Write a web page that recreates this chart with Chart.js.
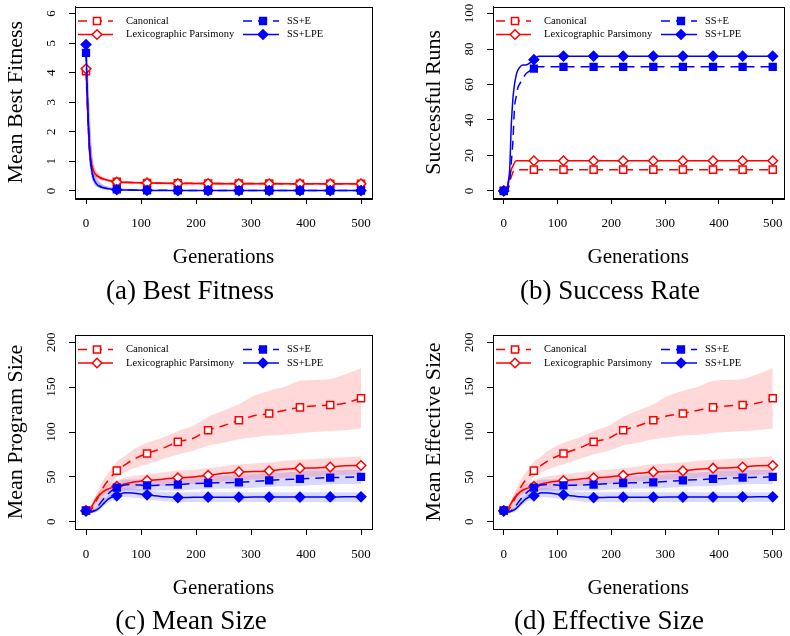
<!DOCTYPE html>
<html><head><meta charset="utf-8">
<script src="https://cdn.jsdelivr.net/npm/chart.js@4"></script>
<style>
html,body{margin:0;padding:0;background:#fff;}
#wrap{position:relative;width:790px;height:636px;overflow:hidden;background:#fff;}
canvas{position:absolute;left:0;top:0;}
</style></head>
<body><div id="wrap">
<canvas id="ca" width="790" height="636"></canvas>
<canvas id="cb" width="790" height="636"></canvas>
<canvas id="cc" width="790" height="636"></canvas>
<canvas id="cd" width="790" height="636"></canvas>
</div>
<script>
// ---------- shared ----------
const xTicks = [0, 100, 200, 300, 400, 500];
const markerGens = [0, 56, 111, 167, 222, 278, 333, 389, 444, 500];
const seriesNames = ['Canonical', 'Lexicographic Parsimony', 'SS+E', 'SS+LPE'];

// ---------- (a) Best Fitness ----------
const fitTicks = [0, 1, 2, 3, 4, 5, 6];
const genA = [0, 3, 6, 9, 12, 15, 20, 25, 30, 40, 56, 80, 111, 140, 167, 222, 278, 333, 389, 444, 500];
const fitCanon   = [4.05, 2.6, 1.5, 0.98, 0.74, 0.62, 0.51, 0.45, 0.41, 0.36, 0.31, 0.29, 0.27, 0.26, 0.26, 0.25, 0.25, 0.25, 0.24, 0.24, 0.24];
const fitCanonHi = [4.45, 3.5, 2.3, 1.5, 1.05, 0.82, 0.62, 0.53, 0.47, 0.41, 0.35, 0.33, 0.31, 0.3, 0.3, 0.29, 0.29, 0.29, 0.28, 0.28, 0.28];
const fitCanonLo = [3.65, 1.9, 1.0, 0.7, 0.56, 0.49, 0.42, 0.38, 0.35, 0.31, 0.27, 0.25, 0.23, 0.22, 0.22, 0.21, 0.21, 0.21, 0.2, 0.2, 0.2];
const fitLex     = [4.13, 2.7, 1.55, 1.0, 0.76, 0.63, 0.52, 0.46, 0.41, 0.36, 0.30, 0.28, 0.27, 0.26, 0.25, 0.25, 0.24, 0.24, 0.24, 0.24, 0.24];
const fitLexHi   = [4.5, 3.6, 2.4, 1.55, 1.1, 0.85, 0.64, 0.55, 0.48, 0.42, 0.35, 0.33, 0.31, 0.3, 0.29, 0.29, 0.28, 0.28, 0.28, 0.28, 0.28];
const fitLexLo   = [3.75, 2.0, 1.05, 0.72, 0.57, 0.5, 0.43, 0.38, 0.35, 0.31, 0.26, 0.24, 0.23, 0.22, 0.21, 0.21, 0.2, 0.2, 0.2, 0.2, 0.2];
const fitSSE     = [4.67, 2.9, 1.55, 0.88, 0.54, 0.36, 0.23, 0.16, 0.12, 0.08, 0.05, 0.03, 0.02, 0.02, 0.02, 0.01, 0.01, 0.01, 0.01, 0.01, 0.01];
const fitSSEHi   = [5.1, 4.2, 2.9, 1.8, 1.1, 0.7, 0.42, 0.3, 0.22, 0.15, 0.1, 0.07, 0.05, 0.04, 0.04, 0.03, 0.03, 0.03, 0.03, 0.03, 0.03];
const fitSSELo   = [4.3, 2.1, 1.0, 0.55, 0.34, 0.22, 0.13, 0.09, 0.06, 0.04, 0.02, 0.01, 0, 0, 0, 0, 0, 0, 0, 0, 0];
const fitSSLPE   = [4.95, 3.0, 1.6, 0.9, 0.55, 0.36, 0.22, 0.15, 0.11, 0.07, 0.04, 0.03, 0.02, 0.01, 0.01, 0.01, 0.01, 0.01, 0.01, 0.01, 0.01];
const fitSSLPEHi = [5.3, 4.5, 3.2, 2.0, 1.2, 0.75, 0.43, 0.3, 0.22, 0.14, 0.09, 0.06, 0.04, 0.03, 0.03, 0.03, 0.03, 0.03, 0.03, 0.03, 0.03];
const fitSSLPELo = [4.6, 2.2, 1.05, 0.56, 0.34, 0.22, 0.13, 0.08, 0.06, 0.03, 0.01, 0.01, 0, 0, 0, 0, 0, 0, 0, 0, 0];

// ---------- (b) Success Rate ----------
const sucTicks = [0, 20, 40, 60, 80, 100];
const genB = [0, 5, 8, 11, 14, 17, 20, 23, 26, 29, 35, 41, 50, 56, 65, 80, 111, 167, 222, 278, 333, 389, 444, 500];
const sucCanon = [0, 0, 1, 5, 8, 10.5, 11.5, 12, 12, 12, 12, 12, 12, 12, 12, 12, 12, 12, 12, 12, 12, 12, 12, 12];
const sucLex   = [0, 0, 5, 9, 12, 14, 16, 17, 17, 17, 17, 17, 17, 17, 17, 17, 17, 17, 17, 17, 17, 17, 17, 17];
const sucSSE   = [0, 0, 1, 6, 16, 28, 47, 53, 58, 60, 63, 66, 68, 69, 70, 70, 70, 70, 70, 70, 70, 70, 70, 70];
const sucSSLPE = [0, 0, 3, 12, 37, 52, 60, 65, 68, 69.5, 71, 71, 72.5, 74, 76, 76, 76, 76, 76, 76, 76, 76, 76, 76];

// ---------- (c) Mean Size / (d) Effective Size ----------
const sizeTicks = [0, 50, 100, 150, 200];
const genC = [0, 5, 10, 15, 20, 25, 30, 40, 50, 56, 70, 85, 111, 140, 167, 195, 222, 250, 278, 305, 333, 360, 389, 415, 444, 470, 500];
const sizeCanon   = [12.5, 12, 14, 19, 25, 31, 37, 46, 53, 57, 63, 69, 76, 82, 89, 93, 102, 107, 113, 118, 120.6, 124, 127.4, 129, 130, 132, 137.5];
const sizeCanonHi = [14, 14, 18, 25, 32, 39, 45, 54, 62, 67, 73, 80, 88, 94, 101, 107, 117, 124, 131, 140, 146, 150, 157, 158, 159, 164, 171];
const sizeCanonLo = [11, 10.5, 11, 13, 17, 22, 28, 38, 46, 50, 55, 59, 64, 70, 75, 79, 85, 88, 92, 94, 96, 97, 99, 100, 101, 102, 104];
const sizeLex     = [12.5, 13, 17, 22, 27, 30, 33, 36.5, 38.5, 39.5, 42, 44, 46, 47.5, 49, 50, 51.8, 54, 55.6, 56, 56.7, 58.5, 59.7, 60, 61, 62.5, 62.7];
const sizeLexHi   = [14, 15, 20, 26, 31, 35, 38, 42, 45, 46, 49, 51, 53, 55, 57, 58, 60, 62, 64, 65, 66, 68, 69, 70, 71, 72, 73];
const sizeLexLo   = [11, 11, 14, 18, 23, 26, 29, 32, 33, 34, 36, 37, 39, 40, 41, 42, 43, 45, 46, 47, 47.5, 49, 50, 50.5, 51, 52, 53];
const sizeSSE     = [12.5, 11.5, 11.5, 13, 16, 20, 24, 31, 36, 38, 41, 41.5, 40.5, 41, 41.5, 42.5, 43.2, 43.5, 44, 45, 46.2, 47, 47.7, 48.5, 49.2, 49.5, 50];
const sizeSSEHi   = [14, 13, 13, 15, 19, 24, 29, 37, 42, 44, 47, 47, 47, 48, 49, 50, 51, 51.5, 52, 53, 54, 55, 56, 57, 57.5, 58, 58];
const sizeSSELo   = [11, 10, 10, 11, 13, 16, 19, 25, 30, 32, 35, 35, 34.5, 35, 35, 36, 36.5, 37, 37, 38, 39, 39.5, 40, 41, 41.5, 42, 42];
const sizeSSLPE   = [12, 11, 11, 12, 13.5, 16, 19, 25, 28.5, 29, 32.5, 32, 30, 28, 27, 27.3, 27.4, 27.4, 27.4, 27.5, 27.5, 27.6, 27.6, 27.7, 27.7, 27.8, 27.8];
const sizeSSLPEHi = [13, 12, 12.5, 14, 16, 19, 22, 29, 33, 34, 37, 37, 35, 33.5, 33, 33, 33, 33, 33, 33, 33, 33, 33, 33, 33, 33, 33];
const sizeSSLPELo = [11, 10, 9.5, 10, 11, 13, 16, 21, 24, 24.5, 27.5, 27, 25, 23, 22, 22, 22, 22, 22, 22, 22, 22, 22, 22, 22, 22, 22];

// ---------- styling ----------
const FONT = '"Liberation Serif", "Times New Roman", serif';
const STY = [
  {color: '#ff0000', dash: [9, 6], style: 'rect',    fill: '#ffffff', r: 5,   band: 'rgba(255,0,0,0.15)'},
  {color: '#ff0000', dash: [],     style: 'rectRot', fill: '#ffffff', r: 4.8, band: 'rgba(255,0,0,0.15)'},
  {color: '#0000ff', dash: [9, 6], style: 'rect',    fill: '#0000ff', r: 4.8, band: 'rgba(0,0,255,0.15)'},
  {color: '#0000ff', dash: [],     style: 'rectRot', fill: '#0000ff', r: 4.8, band: 'rgba(0,0,255,0.15)'}
];

const pts = (xs, ys) => xs.map((x, i) => ({x: x, y: ys[i]}));

const decor = {
  id: 'decor',
  afterDraw(chart) {
    const o = chart.options.plugins.decor;
    const ctx = chart.ctx, a = chart.chartArea, xs = chart.scales.x, ys = chart.scales.y;
    ctx.save();
    // box
    ctx.strokeStyle = '#000'; ctx.lineWidth = 1; ctx.setLineDash([]);
    ctx.strokeRect(Math.round(a.left) + 0.5, Math.round(a.top) + 0.5, Math.round(a.right - a.left), Math.round(a.bottom - a.top));
    ctx.fillStyle = '#000';
    // x tick labels
    ctx.font = '13px ' + FONT; ctx.textAlign = 'center'; ctx.textBaseline = 'middle';
    xTicks.forEach(v => ctx.fillText(String(v), xs.getPixelForValue(v), a.bottom + 26));
    // y tick labels (rotated)
    o.yTicks.forEach(v => {
      ctx.save(); ctx.translate(a.left - 23, ys.getPixelForValue(v)); ctx.rotate(-Math.PI / 2);
      ctx.fillText(String(v), 0, 0); ctx.restore();
    });
    // axis titles
    ctx.font = '21px ' + FONT;
    ctx.fillText('Generations', (xs.getPixelForValue(0) + xs.getPixelForValue(500)) / 2, a.bottom + 59);
    ctx.font = '22px ' + FONT;
    ctx.save(); ctx.translate(a.left - 59, (a.top + a.bottom) / 2); ctx.rotate(-Math.PI / 2);
    ctx.fillText(o.yTitle, 0, 0); ctx.restore();
    // caption
    ctx.font = '27px ' + FONT;
    ctx.fillText(o.caption, o.capX, o.capY);
    // legend
    ctx.font = '10.5px ' + FONT; ctx.textAlign = 'left';
    seriesNames.forEach((name, i) => {
      const s = STY[i], col = i < 2 ? 0 : 1, row = i % 2;
      const y = a.top + 14.5 + row * 13.5;
      const x0 = a.left + (col ? 168 : 3), x1 = a.left + (col ? 204 : 38), xm = a.left + (col ? 188 : 22);
      ctx.strokeStyle = s.color; ctx.lineWidth = 1.5; ctx.setLineDash(s.dash);
      ctx.beginPath(); ctx.moveTo(x0, y); ctx.lineTo(x1, y); ctx.stroke();
      ctx.setLineDash([]);
      ctx.fillStyle = s.fill; ctx.strokeStyle = s.color; ctx.lineWidth = 1.5;
      Chart.helpers.drawPoint(ctx, {pointStyle: s.style, radius: s.r, rotation: 0, borderWidth: 1.5}, xm, y);
      ctx.fillStyle = '#000';
      ctx.fillText(name, a.left + (col ? 212 : 51), y);
    });
    ctx.restore();
  }
};

function makePanel(id, box, yMin, yMax, yTicks, yTitle, caption, capX, capY, gens, series, bands) {
  const datasets = [];
  bands.forEach((b, i) => {
    if (!b) return;
    datasets.push({data: pts(gens, b[0]), fill: '+1', backgroundColor: STY[i].band, borderColor: 'rgba(0,0,0,0)', borderWidth: 0, pointRadius: 0, order: 10, cubicInterpolationMode: 'monotone'});
    datasets.push({data: pts(gens, b[1]), fill: false, backgroundColor: 'rgba(0,0,0,0)', borderColor: 'rgba(0,0,0,0)', borderWidth: 0, pointRadius: 0, order: 10, cubicInterpolationMode: 'monotone'});
  });
  series.forEach((s, i) => {
    const st = STY[i];
    datasets.push({
      data: pts(gens, s), fill: false, borderColor: st.color, borderWidth: 1.5, borderDash: st.dash,
      pointStyle: st.style, pointRadius: c => markerGens.includes(gens[c.dataIndex]) ? st.r : 0,
      pointBackgroundColor: st.fill, pointBorderColor: st.color, pointBorderWidth: 1.5,
      order: 4 - i, cubicInterpolationMode: 'monotone'
    });
  });
  const axisCommon = {
    ticks: {display: false},
    grid: {display: true, drawOnChartArea: false, drawTicks: true, tickLength: 6, color: '#000', lineWidth: 1},
    border: {display: true, color: '#000', width: 1}
  };
  return new Chart(document.getElementById(id), {
    type: 'line',
    data: {datasets: datasets},
    options: {
      responsive: false, animation: false, events: [],
      layout: {padding: {left: 0, top: box.t, right: 790 - box.r, bottom: 636 - box.b - 10}},
      scales: {
        x: Object.assign({type: 'linear', min: -20, max: 520,
          afterBuildTicks: s => { s.ticks = xTicks.map(v => ({value: v})); },
          afterFit: s => { s.height = 10; }}, axisCommon),
        y: Object.assign({type: 'linear', min: yMin, max: yMax,
          afterBuildTicks: s => { s.ticks = yTicks.map(v => ({value: v})); },
          afterFit: s => { s.width = box.l; }}, axisCommon)
      },
      plugins: {
        legend: {display: false}, tooltip: {enabled: false},
        filler: {propagate: false, drawTime: 'beforeDatasetsDraw'},
        decor: {yTicks: yTicks, yTitle: yTitle, caption: caption, capX: capX, capY: capY}
      }
    },
    plugins: [decor]
  });
}

makePanel('ca', {l: 75, t: 5, r: 372, b: 198}, -0.24, 6.24, fitTicks, 'Mean Best Fitness', '(a) Best Fitness', 190, 292, genA,
  [fitCanon, fitLex, fitSSE, fitSSLPE],
  [[fitCanonHi, fitCanonLo], [fitLexHi, fitLexLo], [fitSSEHi, fitSSELo], [fitSSLPEHi, fitSSLPELo]]);
makePanel('cb', {l: 493, t: 5, r: 790, b: 198}, -4, 104, sucTicks, 'Successful Runs', '(b) Success Rate', 610, 292, genB,
  [sucCanon, sucLex, sucSSE, sucSSLPE], [null, null, null, null]);
makePanel('cc', {l: 75, t: 335, r: 372, b: 529}, -8, 208, sizeTicks, 'Mean Program Size', '(c) Mean Size', 191, 622, genC,
  [sizeCanon, sizeLex, sizeSSE, sizeSSLPE],
  [[sizeCanonHi, sizeCanonLo], [sizeLexHi, sizeLexLo], [sizeSSEHi, sizeSSELo], [sizeSSLPEHi, sizeSSLPELo]]);
makePanel('cd', {l: 493, t: 335, r: 790, b: 529}, -8, 208, sizeTicks, 'Mean Effective Size', '(d) Effective Size', 609, 622, genC,
  [sizeCanon, sizeLex, sizeSSE, sizeSSLPE],
  [[sizeCanonHi, sizeCanonLo], [sizeLexHi, sizeLexLo], [sizeSSEHi, sizeSSELo], [sizeSSLPEHi, sizeSSLPELo]]);
</script>
</body></html>
